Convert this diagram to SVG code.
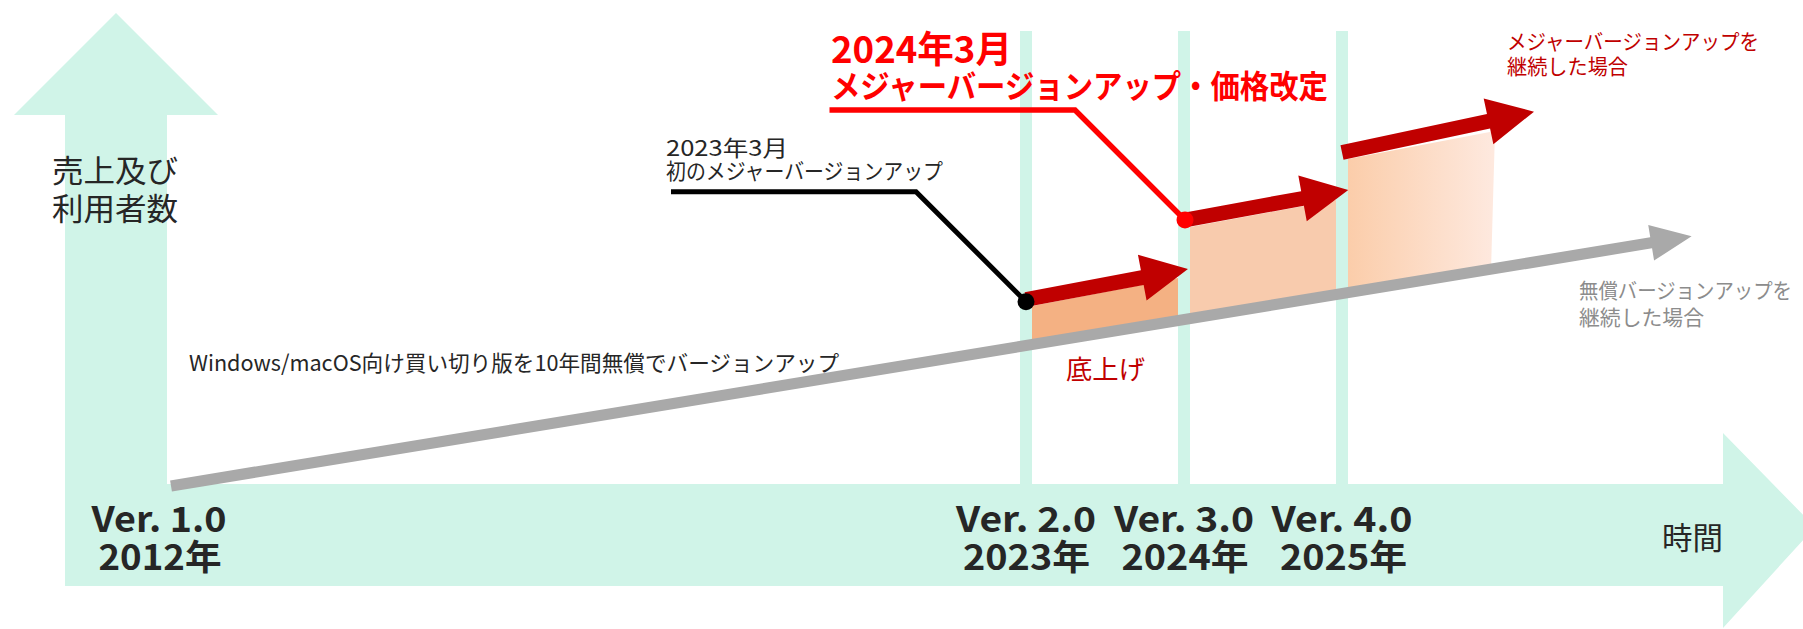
<svg xmlns="http://www.w3.org/2000/svg" width="1803" height="629" viewBox="0 0 1803 629">
  <style>
    text { font-family: "Noto Sans CJK JP", "Noto Sans", sans-serif; }
    .teal { fill: #d0f4e8; }
    .dark { fill: #262626; }
    .ver { font-size: 35px; font-weight: bold; fill: #262626; text-anchor: middle; }
    .redArrow { fill: #c00000; }
  </style>
  <defs>
    <linearGradient id="g3" x1="0" y1="0" x2="1" y2="0">
      <stop offset="0" stop-color="#fbcdaa"/>
      <stop offset="1" stop-color="#fee9df"/>
    </linearGradient>
  </defs>

  <g id="axes">
    <polygon class="teal" points="116,13 218,115 167,115 167,586 65,586 65,115 14,115"/>
    <polygon class="teal" points="65,484 1723,484 1723,433 1815,527 1723,628 1723,586 65,586"/>
    <rect class="teal" x="1020" y="31" width="12" height="453"/>
    <rect class="teal" x="1178" y="31" width="12" height="453"/>
    <rect class="teal" x="1336" y="31" width="12" height="453"/>
  </g>

  <g id="blocks">
    <polygon id="block1" fill="#f4b183" points="1032,306 1178,278 1178,320 1032,345"/>
    <polygon id="block2" fill="#f8cbad" points="1190,227 1336,200 1336,296 1190,320"/>
    <polygon id="block3" fill="url(#g3)" points="1348,159 1495,131 1491,271 1348,294"/>
  </g>

  <g id="connectors">
    <g id="gray-arrow" transform="translate(171,486) rotate(-9.33)">
      <path fill="#a9a9a9" d="M0,-5.6 L1500,-5.6 L1500,-18 L1541,0 L1500,18 L1500,5.6 L0,5.6 Z"/>
    </g>
    <g id="red-arrow1" transform="translate(1026,299.5) rotate(-10.66)">
      <path class="redArrow" d="M0,-7.4 L118.3,-7.4 L118.3,-23.3 L164.8,0 L118.3,23.3 L118.3,7.4 L0,7.4 Z"/>
    </g>
    <g id="red-arrow2" transform="translate(1185,220) rotate(-10.41)">
      <path class="redArrow" d="M0,-7.4 L119.5,-7.4 L119.5,-23.3 L166,0 L119.5,23.3 L119.5,7.4 L0,7.4 Z"/>
    </g>
    <g id="red-arrow3" transform="translate(1342,152.5) rotate(-12)">
      <path class="redArrow" d="M0,-7.4 L149.8,-7.4 L149.8,-23.3 L196.3,0 L149.8,23.3 L149.8,7.4 L0,7.4 Z"/>
    </g>
    <polyline id="leader-black" fill="none" stroke="#000" stroke-width="5" points="671,191.7 916,191.7 1026,301.7"/>
    <circle cx="1026" cy="301.7" r="8.5" fill="#000"/>
    <polyline id="leader-red" fill="none" stroke="#ff0000" stroke-width="5.5" points="829.5,110 1075,110 1185,220"/>
    <circle cx="1185" cy="220" r="8.5" fill="#ff0000"/>
  </g>

  <g id="label-yaxis">
    <text class="dark" x="52" y="182" font-size="31" textLength="126" lengthAdjust="spacingAndGlyphs">売上及び</text>
    <text class="dark" x="52" y="220" font-size="31" textLength="126" lengthAdjust="spacingAndGlyphs">利用者数</text>
  </g>
  <g id="label-2023">
    <text class="dark" x="666" y="156" font-size="22" textLength="122" lengthAdjust="spacingAndGlyphs">2023年3月</text>
    <text class="dark" x="666" y="179" font-size="22" textLength="277" lengthAdjust="spacingAndGlyphs">初のメジャーバージョンアップ</text>
  </g>
  <g id="label-2024">
    <text x="831" y="63" font-size="37" font-weight="bold" fill="#ff0000" textLength="181" lengthAdjust="spacingAndGlyphs">2024年3月</text>
    <text x="831" y="98" font-size="32" font-weight="bold" fill="#ff0000" textLength="497" lengthAdjust="spacingAndGlyphs">メジャーバージョンアップ・価格改定</text>
  </g>
  <g id="label-major">
    <text x="1507" y="48.5" font-size="21" fill="#c00000" textLength="252" lengthAdjust="spacingAndGlyphs">メジャーバージョンアップを</text>
    <text x="1507" y="74" font-size="21" fill="#c00000" textLength="121" lengthAdjust="spacingAndGlyphs">継続した場合</text>
  </g>
  <g id="label-free">
    <text x="1579" y="298" font-size="21" fill="#8c8c8c" textLength="213" lengthAdjust="spacingAndGlyphs">無償バージョンアップを</text>
    <text x="1579" y="324.5" font-size="21" fill="#8c8c8c" textLength="125" lengthAdjust="spacingAndGlyphs">継続した場合</text>
  </g>
  <g id="label-windows">
    <text class="dark" x="189" y="371" font-size="22" textLength="650" lengthAdjust="spacingAndGlyphs">Windows/macOS向け買い切り版を10年間無償でバージョンアップ</text>
  </g>
  <g id="label-sokoage">
    <text x="1066" y="379" font-size="26" fill="#c00000" textLength="79" lengthAdjust="spacingAndGlyphs">底上げ</text>
  </g>
  <g id="ver1">
    <text class="ver" x="159" y="532" textLength="135" lengthAdjust="spacingAndGlyphs">Ver. 1.0</text>
    <text class="ver" x="160" y="570" textLength="123" lengthAdjust="spacingAndGlyphs">2012年</text>
  </g>
  <g id="ver2">
    <text class="ver" x="1026" y="532" textLength="140" lengthAdjust="spacingAndGlyphs">Ver. 2.0</text>
    <text class="ver" x="1026.5" y="570" textLength="127" lengthAdjust="spacingAndGlyphs">2023年</text>
  </g>
  <g id="ver3">
    <text class="ver" x="1184" y="532" textLength="140" lengthAdjust="spacingAndGlyphs">Ver. 3.0</text>
    <text class="ver" x="1185" y="570" textLength="127" lengthAdjust="spacingAndGlyphs">2024年</text>
  </g>
  <g id="ver4">
    <text class="ver" x="1342" y="532" textLength="141" lengthAdjust="spacingAndGlyphs">Ver. 4.0</text>
    <text class="ver" x="1343.5" y="570" textLength="127" lengthAdjust="spacingAndGlyphs">2025年</text>
  </g>
  <g id="label-time">
    <text class="dark" x="1662" y="549" font-size="31" textLength="61" lengthAdjust="spacingAndGlyphs">時間</text>
  </g>
</svg>
